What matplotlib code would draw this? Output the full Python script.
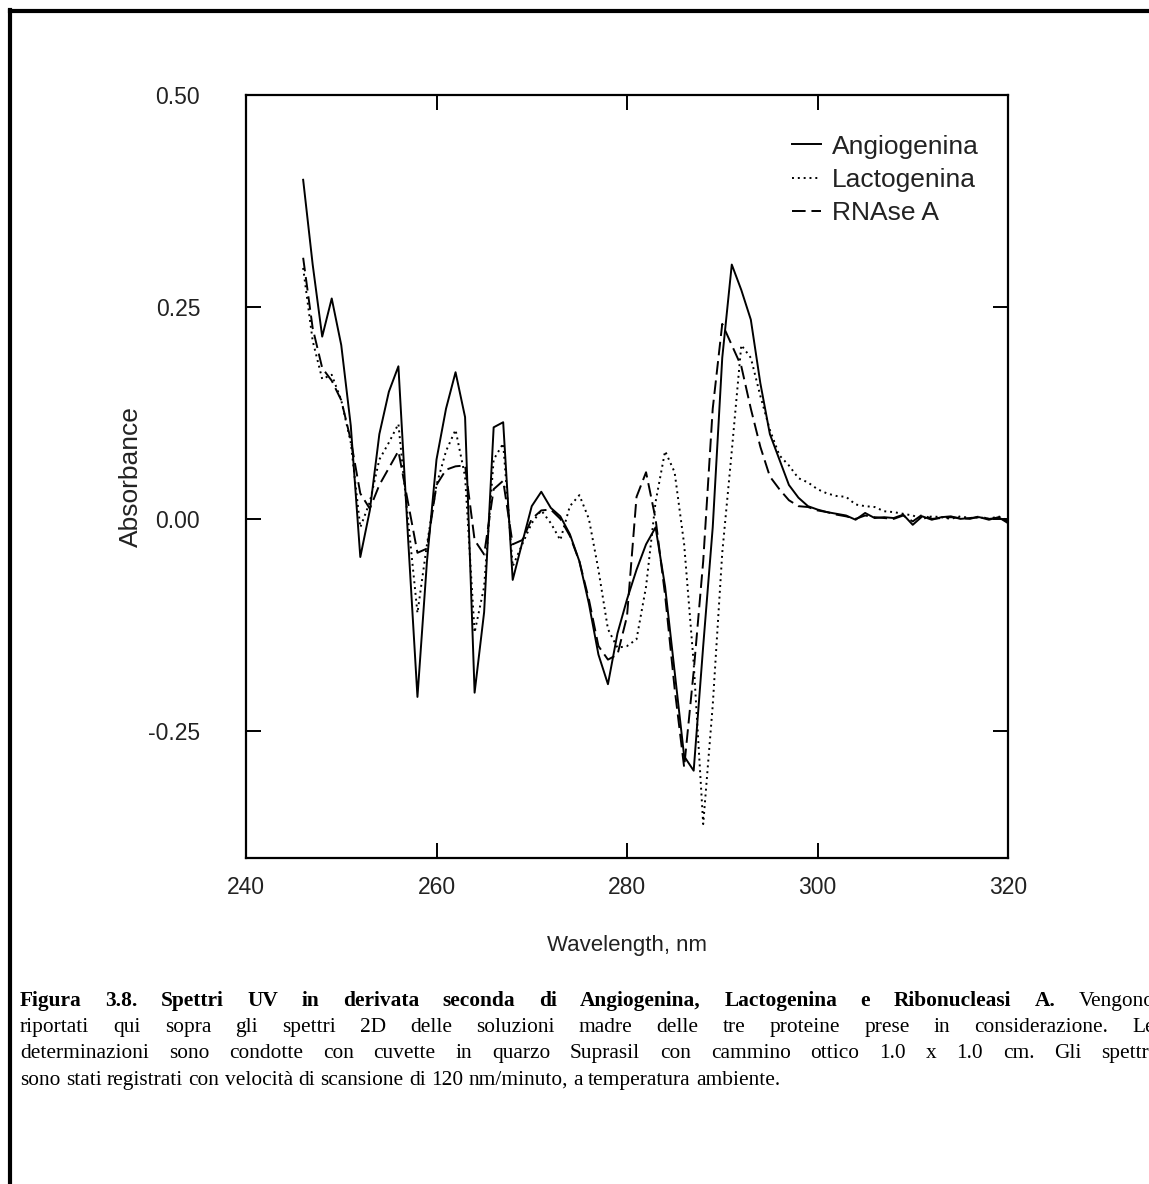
import numpy as np
import matplotlib
matplotlib.use("Agg")
from matplotlib import pyplot as plt
from matplotlib.lines import Line2D

# second-derivative UV spectra, 1 nm steps
wavelength = list(range(246, 321))

angiogenina = [
    0.400, 0.300, 0.215, 0.260, 0.205, 0.110, -0.045, 0.010, 0.100, 0.150,
    0.180, -0.020, -0.210, -0.050, 0.070, 0.130, 0.173, 0.120, -0.205, -0.110,
    0.108, 0.114, -0.072, -0.028, 0.015, 0.032, 0.013, 0.003, -0.018, -0.050,
    -0.100, -0.160, -0.195, -0.135, -0.095, -0.060, -0.030, -0.010, -0.080, -0.180,
    -0.280, -0.297, -0.150, -0.010, 0.190, 0.300, 0.270, 0.235, 0.160, 0.100,
    0.070, 0.040, 0.025, 0.015, 0.011, 0.008, 0.006, 0.004, -0.001, 0.007,
    0.001, 0.002, 0.001, 0.005, -0.007, 0.003, -0.001, 0.002, 0.003, 0.000,
    0.001, 0.002, -0.001, 0.002, -0.005,
]

lactogenina = [
    0.296, 0.210, 0.165, 0.170, 0.140, 0.090, -0.010, 0.020, 0.070, 0.090,
    0.112, 0.000, -0.111, -0.030, 0.040, 0.080, 0.105, 0.050, -0.134, -0.080,
    0.070, 0.089, -0.056, -0.030, -0.005, 0.010, -0.005, -0.025, 0.015, 0.028,
    0.000, -0.060, -0.130, -0.152, -0.150, -0.142, -0.080, 0.020, 0.080, 0.055,
    -0.030, -0.170, -0.360, -0.220, -0.040, 0.080, 0.205, 0.190, 0.145, 0.105,
    0.075, 0.063, 0.048, 0.043, 0.035, 0.030, 0.027, 0.026, 0.017, 0.015,
    0.014, 0.009, 0.008, 0.006, 0.004, 0.000, 0.003, 0.002, 0.000, 0.003,
    0.001, 0.002, 0.000, 0.003, -0.002,
]

rnase_a = [
    0.308, 0.225, 0.178, 0.163, 0.140, 0.093, 0.030, 0.012, 0.040, 0.060,
    0.080, 0.020, -0.040, -0.035, 0.040, 0.058, 0.062, 0.063, -0.025, -0.042,
    0.035, 0.045, -0.030, -0.025, 0.000, 0.010, 0.011, 0.000, -0.020, -0.050,
    -0.095, -0.150, -0.166, -0.160, -0.115, 0.026, 0.055, 0.000, -0.090, -0.200,
    -0.293, -0.180, -0.050, 0.130, 0.230, 0.205, 0.180, 0.130, 0.085, 0.050,
    0.035, 0.022, 0.015, 0.014, 0.010, 0.008, 0.005, 0.003, 0.000, 0.004,
    0.002, 0.001, 0.000, 0.004, -0.003, 0.005, 0.000, 0.001, 0.002, 0.001,
    0.000, 0.003, 0.000, 0.001, -0.003,
]

series_names = ["Angiogenina", "Lactogenina", "RNAse A"]

caption = [
    (["Figura", "3.8.", "Spettri", "UV", "in", "derivata", "seconda", "di",
      "Angiogenina,", "Lactogenina", "e", "Ribonucleasi", "A."], ["Vengono"]),
    ([], "riportati qui sopra gli spettri 2D delle soluzioni madre delle tre "
         "proteine prese in considerazione. Le".split()),
    ([], "determinazioni sono condotte con cuvette in quarzo Suprasil con "
         "cammino ottico 1.0 x 1.0 cm. Gli spettri".split()),
    ([], "sono stati registrati con velocità di scansione di 120 nm/minuto, "
         "a temperatura ambiente.".split()),
]

W, H = 1149, 1184
fig = plt.figure(figsize=(W / 100, H / 100), dpi=100)
fig.patch.set_facecolor("white")

ax = fig.add_axes([246 / W, 1 - 858 / H, 762 / W, 763 / H])
ax.plot(wavelength, angiogenina, color="black", lw=1.4, label=series_names[0])
ax.plot(wavelength, lactogenina, color="black", lw=1.4,
        linestyle=(0, (1, 2)), label=series_names[1])
ax.plot(wavelength, rnase_a, color="black", lw=1.4,
        linestyle=(0, (7, 3)), label=series_names[2])

ax.set_xlim(240, 320)
ax.set_ylim(-0.40, 0.50)
ax.set_xticks([240, 260, 280, 300, 320])
ax.set_yticks([-0.25, 0.0, 0.25, 0.50])
ax.set_yticklabels(["-0.25", "0.00", "0.25", "0.50"])
for s in ax.spines.values():
    s.set_linewidth(1.6)
ax.tick_params(direction="in", length=11, width=1.4, top=True, right=True,
               labelsize=16.5, colors="black")
ax.tick_params(axis="y", pad=33)
ax.tick_params(axis="x", pad=13)
for lab in ax.get_xticklabels() + ax.get_yticklabels():
    lab.set_fontfamily("Liberation Sans")
    lab.set_color("#222222")

ax.set_xlabel("Wavelength, nm", fontsize=16, family="Liberation Sans",
              color="#222222", labelpad=26)
ax.set_ylabel("Absorbance", fontsize=19, family="Liberation Sans",
              color="#222222", labelpad=4)

leg = ax.legend(loc="upper left", bbox_to_anchor=(0.703, 0.962), frameon=False,
                prop={"family": "Liberation Sans", "size": 19},
                handlelength=1.1, handletextpad=0.4, labelspacing=0.35,
                borderaxespad=0)
for t in leg.get_texts():
    t.set_color("#222222")

# page frame on the left and top edges
fig.add_artist(Line2D([10 / W, 10 / W], [0, 1 - 10 / H], color="black",
                      lw=3, transform=fig.transFigure))
fig.add_artist(Line2D([10 / W, 1], [1 - 11 / H, 1 - 11 / H], color="black",
                      lw=3, transform=fig.transFigure))

# justified caption, word by word
fig.canvas.draw()
renderer = fig.canvas.get_renderer()
x_left, x_right = 20, 1155
baselines = [1006, 1032, 1058, 1085]
cap_font = dict(family="Liberation Serif", fontsize=15.4, va="baseline",
                ha="left", color="black")


def word_width(word, bold):
    t = fig.text(0, 0, word, fontweight="bold" if bold else "normal", **cap_font)
    w = t.get_window_extent(renderer).width
    t.remove()
    return w


space_w = word_width("a a", False) - 2 * word_width("a", False)
for i, (bold_words, plain_words) in enumerate(caption):
    words = [(w, True) for w in bold_words] + [(w, False) for w in plain_words]
    widths = [word_width(w, b) for w, b in words]
    last = i == len(caption) - 1
    if last:
        gap = space_w
    else:
        gap = (x_right - x_left - sum(widths)) / (len(words) - 1)
    x = x_left
    for (w, b), wd in zip(words, widths):
        fig.text(x / W, 1 - baselines[i] / H, w,
                 fontweight="bold" if b else "normal", **cap_font)
        x += wd + gap

fig.savefig("out.png", dpi=100)
